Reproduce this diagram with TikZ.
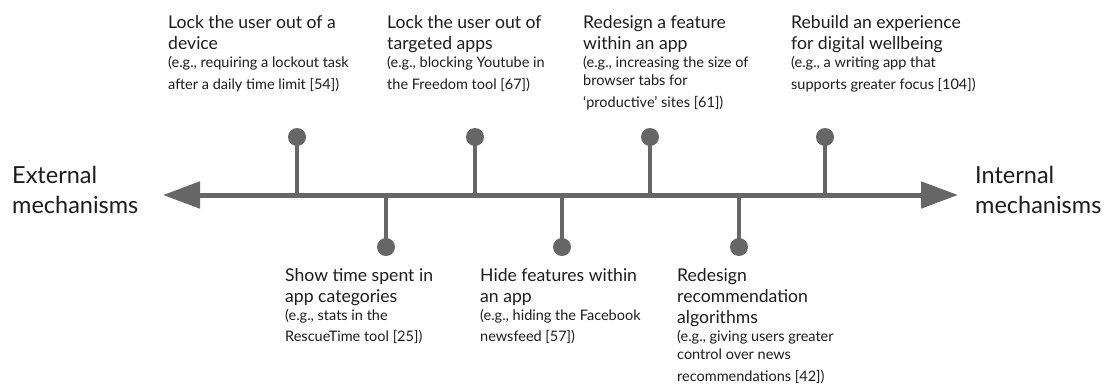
\documentclass[tikz,border=0pt]{standalone}
\usepackage{fontspec}
\setmainfont{Lato}
\usetikzlibrary{arrows.meta}
\definecolor{axisgray}{HTML}{666666}
\definecolor{inkgray}{HTML}{1C1C1C}

% smaller second paragraph inside a tag node
\newcommand{\examplenote}[1]{\par\fontsize{14.5}{18}\selectfont
  \spaceskip=0pt \xspaceskip=0pt #1}

\begin{document}
\begin{tikzpicture}[x=1pt, y=-1pt,
  dot/.style={circle, fill=axisgray, inner sep=0pt, minimum size=18pt},
  stem/.style={draw=axisgray, line width=3.5pt},
  plainspace/.style={execute at begin node={\spaceskip=0pt \xspaceskip=0pt}},
  tagtext/.style={anchor=north west, inner sep=0pt, text width=215pt, align=left,
    text=inkgray, font=\fontsize{17.6}{21.3}\selectfont, plainspace},
  sidetext/.style={anchor=north west, inner sep=0pt, align=left,
    text=inkgray, font=\fontsize{23.5}{30}\selectfont, plainspace}]
  \useasboundingbox (0,0) rectangle (1105,383);

  % main axis
  \coordinate (west) at (163,195);
  \coordinate (east) at (958,195);
  \draw[axisgray, line width=5pt,
    {Triangle[length=37pt,width=26pt]}-{Triangle[length=37pt,width=26pt]}] (west) -- (east);

  % pins above and below the axis
  \foreach \name/\x/\y in {up1/297/137, up2/475/137, up3/650/137, up4/825/137,
                           lo1/386/247, lo2/562/247, lo3/739/247} {
    \node[dot] (\name) at (\x,\y) {};
    \draw[stem] (\name.center) -- (\name |- west);
  }

  % end labels
  \node[sidetext] (ext) at (12,166) {External\\mechanisms};
  \node[sidetext] (int) at (975,166) {Internal\\mechanisms};

  % upper tags
  \node[tagtext] (t1) at (168,15.5) {Lock the user out of a\\device
    \examplenote{(e.g., requiring a lockout task\\after a daily time limit [54])}};
  \node[tagtext] (t2) at (387,15.5) {Lock the user out of\\targeted apps
    \examplenote{(e.g., blocking Youtube in\\the Freedom tool [67])}};
  \node[tagtext] (t3) at (583,15.5) {Redesign a feature\\within an app
    \examplenote{(e.g., increasing the size of\\browser tabs for\\`productive' sites [61])}};
  \node[tagtext] (t4) at (791,15.5) {Rebuild an experience\\for digital wellbeing
    \examplenote{(e.g., a writing app that\\supports greater focus [104])}};

  % lower tags
  \node[tagtext] (b1) at (285,268) {Show time spent in\\app categories
    \examplenote{(e.g., stats in the\\RescueTime tool [25])}};
  \node[tagtext] (b2) at (480,268) {Hide features within\\an app
    \examplenote{(e.g., hiding the Facebook\\newsfeed [57])}};
  \node[tagtext] (b3) at (677,268) {Redesign\\recommendation\\algorithms
    \examplenote{(e.g., giving users greater\\control over news\\recommendations [42])}};
\end{tikzpicture}
\end{document}
